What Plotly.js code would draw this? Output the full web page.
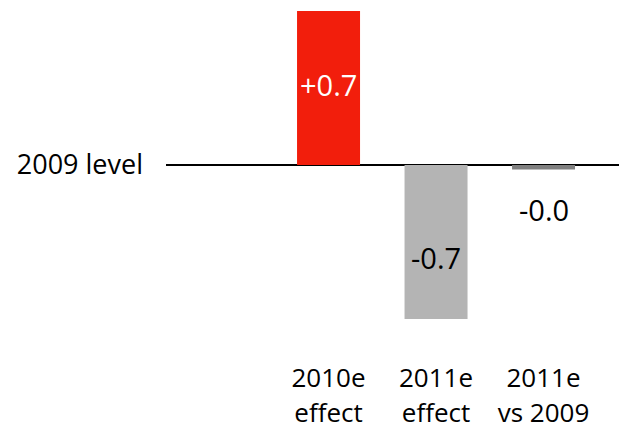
<!DOCTYPE html>
<html>
<head>
<meta charset="utf-8">
<script src="https://cdn.plot.ly/plotly-3.0.1.min.js"></script>
<style>
  html, body { margin: 0; padding: 0; background: #ffffff; }
  #chart { width: 619px; height: 431px; }
</style>
</head>
<body>
<div id="chart"></div>
<script>
// Change relative to the 2009 level
const categories = ["2010e effect", "2011e effect", "2011e vs 2009"];
const labelLine1 = ["2010e", "2011e", "2011e"];
const labelLine2 = ["effect", "effect", "vs 2009"];
const values = [0.7, -0.7, -0.02];
const barColors = ["#f21e0c", "#b4b4b4", "#808080"];
const labelColors = ["#ffffff", "#000000", "#000000"];

const FONT = "'Open Sans', 'Noto Sans', sans-serif";
const X_RANGE = [-1.512, 2.702];

function fmt(v) {
  const s = Math.abs(v).toFixed(1);
  return (v > 0 ? "+" : "-") + s;
}

const bars = {
  type: "bar",
  x: categories,
  y: values,
  marker: { color: barColors, line: { width: 0 } },
  hoverinfo: "skip"
};

// Transparent companion trace that carries the second line of category labels
const secondLine = {
  type: "scatter",
  mode: "markers",
  x: categories,
  y: values,
  xaxis: "x2",
  marker: { opacity: 0 },
  hoverinfo: "skip",
  showlegend: false
};

// Value labels: centred inside the two large bars, below the small one
const annotations = values.map((v, i) => {
  const small = Math.abs(v) < 0.1;
  return {
    x: categories[i],
    y: small ? v : v / 2,
    xref: "x",
    yref: "y",
    text: fmt(v),
    showarrow: false,
    yanchor: small ? "top" : "middle",
    yshift: small ? -19 : (v < 0 ? -15 : 4),
    font: { family: FONT, size: 29, color: labelColors[i] }
  };
});

const tickFont = { family: FONT, size: 26, color: "#000000" };

const layout = {
  width: 619,
  height: 431,
  margin: { l: 166, r: 0, t: 0, b: 79 },
  paper_bgcolor: "#ffffff",
  plot_bgcolor: "#ffffff",
  showlegend: false,
  bargap: 0.414,
  xaxis: {
    type: "category",
    categoryarray: categories,
    range: X_RANGE,
    tickvals: categories,
    ticktext: labelLine1,
    showgrid: false,
    zeroline: false,
    showline: false,
    ticks: "",
    ticklabelstandoff: 8,
    tickfont: tickFont
  },
  xaxis2: {
    type: "category",
    categoryarray: categories,
    overlaying: "x",
    side: "bottom",
    range: X_RANGE,
    tickvals: categories,
    ticktext: labelLine2,
    showgrid: false,
    zeroline: false,
    showline: false,
    ticks: "",
    ticklabelstandoff: 43,
    tickfont: tickFont
  },
  yaxis: {
    range: [-0.85, 0.75],
    tickvals: [0],
    ticktext: ["2009 level"],
    showgrid: false,
    zeroline: true,
    zerolinecolor: "#000000",
    zerolinewidth: 2,
    showline: false,
    ticks: "",
    ticklabelstandoff: 22,
    tickfont: { family: FONT, size: 27, color: "#000000" }
  },
  annotations: annotations
};

Plotly.newPlot("chart", [bars, secondLine], layout, { displayModeBar: false, staticPlot: true });
</script>
</body>
</html>
